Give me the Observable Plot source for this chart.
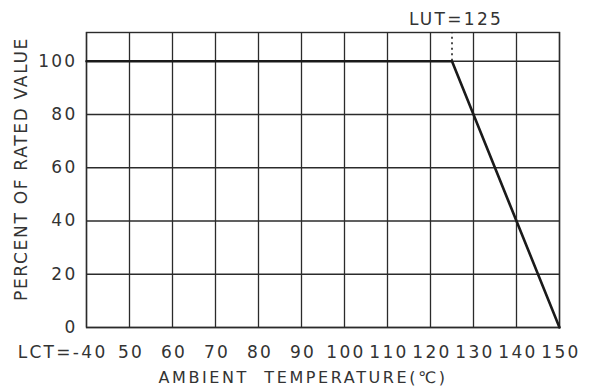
<!DOCTYPE html>
<html>
<head>
<meta charset="utf-8">
<script src="https://cdn.jsdelivr.net/npm/d3@7"></script>
<script src="https://cdn.jsdelivr.net/npm/@observablehq/plot@0.6"></script>
<style>
  html, body { margin: 0; padding: 0; background: #fff; }
</style>
</head>
<body>
<div id="chart"></div>
<script>
// Data
const tempTicks = [-40, 50, 60, 70, 80, 90, 100, 110, 120, 130, 140, 150];
const tickLabels = ["LCT=-40", "50", "60", "70", "80", "90", "100", "110", "120", "130", "140", "150"];
const yTicks = [0, 20, 40, 60, 80, 100];
const curveTemp = [-40, 125, 150];
const curvePct = [100, 100, 0];
const lutTemp = 125;
const lutLabel = "LUT=125";
const yMax = 110.8;
const yTitle = "PERCENT OF RATED VALUE";
const xTitle = "AMBIENT  TEMPERATURE(\u2103)";

// The x axis is drawn with equally spaced grid columns: map temperature to column index
const col = d3.scaleLinear().domain(tempTicks).range(d3.range(tempTicks.length));

const curve = curveTemp.map((t, i) => ({x: col(t), y: curvePct[i]}));
const ticks = tempTicks.map((t, i) => ({x: col(t), label: tickLabels[i]}));

const ink = "#2b2b2b";
const textInk = "#333";
const fs = 17;

const chart = Plot.plot({
  width: 593,
  height: 387,
  marginLeft: 86,
  marginRight: 34,
  marginTop: 32,
  marginBottom: 60,
  style: {fontFamily: "DejaVu Sans", fontSize: fs + "px", letterSpacing: "2.3px", color: textInk, background: "#fff"},
  x: {type: "linear", domain: [0, tempTicks.length - 1], axis: null},
  y: {domain: [0, yMax], axis: null},
  marks: [
    Plot.ruleX(ticks, {x: "x", stroke: ink, strokeWidth: 1.3}),
    Plot.ruleY(yTicks, {stroke: ink, strokeWidth: 1.3}),
    Plot.frame({stroke: ink, strokeWidth: 1.4}),
    Plot.ruleX([lutTemp], {x: d => col(d), y1: 100, y2: yMax, stroke: "#222", strokeWidth: 1.6, strokeDasharray: "2,3.5"}),
    Plot.line(curve, {x: "x", y: "y", stroke: "#1a1a1a", strokeWidth: 2.6}),
    // y tick labels
    Plot.text(yTicks, {x: 0, y: d => d, text: d => String(d), textAnchor: "end", lineAnchor: "middle", dx: -9, fill: textInk, fontSize: fs}),
    // x tick labels
    Plot.text(ticks.slice(1), {x: "x", text: "label", frameAnchor: "bottom", lineAnchor: "middle", dy: 25, fill: textInk, fontSize: fs, dx: 1.5}),
    Plot.text(ticks.slice(0, 1), {x: "x", text: "label", frameAnchor: "bottom", lineAnchor: "middle", dy: 25, textAnchor: "end", dx: 21, fill: textInk, fontSize: fs}),
    // LUT label
    Plot.text([lutTemp], {x: d => col(d), text: () => lutLabel, frameAnchor: "top", lineAnchor: "middle", dy: -13, dx: 4, fill: textInk, fontSize: fs}),
    // axis titles
    Plot.text([yTitle], {frameAnchor: "left", textAnchor: "middle", lineAnchor: "middle", dx: -65, dy: -11, rotate: -90, fill: textInk, fontSize: fs}),
    Plot.text([xTitle], {frameAnchor: "bottom", lineAnchor: "middle", dx: -20, dy: 50, fill: textInk, fontSize: 16})
  ]
});

d3.select(chart).selectAll("text").filter(function() { return this.textContent === yTitle; }).style("letter-spacing", "1.7px");
d3.select(chart).selectAll("text").filter(function() { return this.textContent === xTitle; }).style("letter-spacing", "2.6px");

document.getElementById("chart").appendChild(chart);
</script>
</body>
</html>
